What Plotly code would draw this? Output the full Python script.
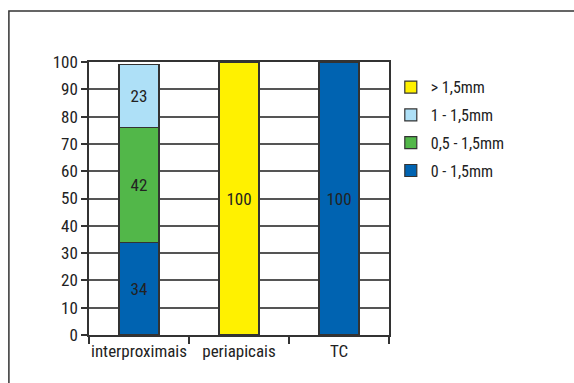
import plotly.graph_objects as go

# Categories and stacked series (percent)
categories = ["interproximais", "periapicais", "TC"]
s_0_15 = [34, None, 100]      # 0 - 1,5mm
s_05_15 = [42, None, None]    # 0,5 - 1,5mm
s_1_15 = [23, None, None]     # 1 - 1,5mm
s_gt15 = [None, 100, None]    # > 1,5mm
y_ticks = [0, 10, 20, 30, 40, 50, 60, 70, 80, 90, 100]

FONT = "Roboto Condensed, Arial Narrow, sans-serif"
TXT = "#222222"
FS = 17

# (name, values, colour, legend rank)
series = [
    ("0 - 1,5mm", s_0_15, "#0063B1", 4),
    ("0,5 - 1,5mm", s_05_15, "#52B749", 3),
    ("1 - 1,5mm", s_1_15, "#AEE0F7", 2),
    ("> 1,5mm", s_gt15, "#FFF100", 1),
]

fig = go.Figure()
for name, vals, col, rank in series:
    fig.add_trace(go.Bar(
        x=categories, y=vals, name=name, legendgroup=name, legendrank=rank,
        marker=dict(color=col, line=dict(color="#333333", width=1.2)),
        texttemplate="%{y}", textposition="inside", insidetextanchor="middle",
        textfont=dict(family=FONT, size=FS, color=TXT),
        constraintext="none",
    ))

fig.update_layout(
    width=574, height=383,
    margin=dict(l=89, r=185, t=62, b=48, autoexpand=False),
    paper_bgcolor="white", plot_bgcolor="white",
    barmode="stack", bargap=0.6,
    font=dict(family=FONT, size=FS, color=TXT),
    showlegend=True,
    legend=dict(
        x=1.006, y=0.97, xanchor="left", yanchor="top",
        traceorder="grouped", tracegroupgap=4,
        font=dict(family=FONT, size=16, color=TXT),
        bgcolor="rgba(0,0,0,0)",
    ),
    xaxis=dict(
        tickson="boundaries", ticks="outside", ticklen=7, tickwidth=1.5,
        tickcolor="#333333", showgrid=False, tickangle=0, automargin=False,
        showline=True, linecolor="#333333", linewidth=1.5, mirror=True,
        tickfont=dict(family=FONT, size=FS, color=TXT),
    ),
    yaxis=dict(
        range=[0, 100], tickvals=y_ticks, ticks="outside", ticklen=6,
        tickwidth=1.5, tickcolor="#333333", automargin=False,
        showgrid=True, gridcolor="#555555", gridwidth=1.5,
        showline=True, linecolor="#333333", linewidth=1.5, mirror=True,
        tickfont=dict(family=FONT, size=FS, color=TXT), zeroline=False,
    ),
)

# Outer frame around the figure
fig.add_shape(type="rect", xref="paper", yref="paper",
              x0=-0.267, x1=1.7, y0=-0.3, y1=1.187,
              line=dict(color="#333333", width=1.5), layer="below")

fig.write_html("out.html")
